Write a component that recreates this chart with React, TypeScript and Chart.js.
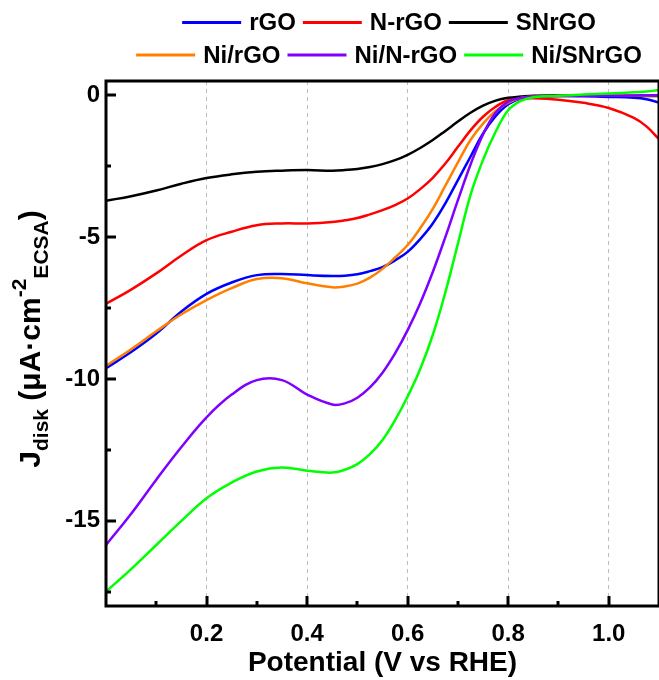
import React, { useEffect, useRef } from "react";
import { Chart, registerables } from "chart.js";

Chart.register(...registerables);

// ---------- data ----------
const potential = [0, 0.05, 0.1, 0.15, 0.2, 0.25, 0.3, 0.35, 0.4, 0.45, 0.475, 0.5, 0.525, 0.55, 0.575, 0.6, 0.625, 0.65, 0.675, 0.7, 0.725, 0.75, 0.775, 0.8, 0.825, 0.85, 0.9, 0.95, 1.0, 1.05, 1.075, 1.1];

const rGO = [-9.62, -9.05, -8.4, -7.62, -7.0, -6.6, -6.34, -6.3, -6.34, -6.37, -6.36, -6.31, -6.2, -6.06, -5.82, -5.52, -5.07, -4.52, -3.81, -2.99, -2.17, -1.35, -0.74, -0.32, -0.12, -0.05, -0.03, -0.04, -0.06, -0.09, -0.14, -0.26];
const NrGO = [-7.35, -6.85, -6.28, -5.65, -5.11, -4.81, -4.58, -4.52, -4.52, -4.47, -4.41, -4.33, -4.2, -4.05, -3.87, -3.64, -3.31, -2.91, -2.41, -1.82, -1.24, -0.76, -0.41, -0.18, -0.12, -0.11, -0.16, -0.27, -0.45, -0.8, -1.1, -1.55];
const SNrGO = [-3.72, -3.56, -3.36, -3.12, -2.92, -2.79, -2.7, -2.66, -2.64, -2.66, -2.64, -2.6, -2.53, -2.43, -2.29, -2.1, -1.86, -1.58, -1.26, -0.93, -0.62, -0.37, -0.19, -0.09, -0.05, -0.02, -0.01, -0.01, -0.02, -0.02, -0.03, -0.03];
const NiRGO = [-9.54, -8.95, -8.32, -7.72, -7.22, -6.8, -6.48, -6.45, -6.63, -6.77, -6.74, -6.64, -6.43, -6.12, -5.72, -5.28, -4.69, -4.01, -3.19, -2.37, -1.58, -1.0, -0.56, -0.26, -0.1, -0.05, -0.03, -0.02, -0.02, -0.01, -0.01, 0.0];
const NiNrGO = [-15.85, -14.75, -13.55, -12.4, -11.35, -10.55, -10.04, -10.04, -10.55, -10.9, -10.86, -10.66, -10.3, -9.78, -9.1, -8.28, -7.33, -6.23, -5.0, -3.7, -2.45, -1.38, -0.62, -0.23, -0.1, -0.05, -0.03, -0.02, -0.02, -0.01, 0.0, 0.0];
const NiSNrGO = [-17.49, -16.7, -15.85, -15.0, -14.2, -13.65, -13.26, -13.12, -13.23, -13.3, -13.2, -13.0, -12.65, -12.15, -11.45, -10.62, -9.65, -8.45, -6.95, -5.23, -3.52, -2.28, -1.29, -0.53, -0.2, -0.07, -0.02, 0.02, 0.06, 0.1, 0.13, 0.18];

const seriesNames = ["rGO", "N-rGO", "SNrGO", "Ni/rGO", "Ni/N-rGO", "Ni/SNrGO"];
const seriesValues = [rGO, NrGO, SNrGO, NiRGO, NiNrGO, NiSNrGO];
const seriesColors = ["#0000FF", "#FF0000", "#000000", "#FF8000", "#8000FF", "#00FF00"];

const xMajorTicks = [0.2, 0.4, 0.6, 0.8, 1.0];
const xMinorTicks = [0.1, 0.3, 0.5, 0.7, 0.9];
const yMajorTicks = [0, -5, -10, -15];
const yMinorTicks = [-2.5, -7.5, -12.5, -17.5];

const legendRows = [
  ["rGO", "N-rGO", "SNrGO"],
  ["Ni/rGO", "Ni/N-rGO", "Ni/SNrGO"],
];

const xTitle = "Potential (V vs RHE)";
const yTitleParts = [
  { text: "J", kind: "main" },
  { text: "disk", kind: "sub" },
  { text: " (μA·cm", kind: "main" },
  { text: "-2", kind: "sup" },
  { text: "ECSA", kind: "sub" },
  { text: ")", kind: "main" },
];

const FONT = '"Liberation Sans", Arial, Helvetica, sans-serif';

// ---------- plugins ----------
const frameTicksPlugin = {
  id: "frameTicks",
  afterDatasetsDraw(chart: any) {
    const { ctx, chartArea, scales } = chart;
    const { left, right, top, bottom } = chartArea;
    ctx.save();
    ctx.strokeStyle = "#000";
    ctx.lineWidth = 3;
    ctx.lineCap = "butt";
    const xs = scales.x;
    const ys = scales.y;
    const drawX = (v: number, len: number) => {
      const px = Math.round(xs.getPixelForValue(v));
      ctx.beginPath();
      ctx.moveTo(px, bottom);
      ctx.lineTo(px, bottom - len);
      ctx.stroke();
    };
    const drawY = (v: number, len: number) => {
      const py = Math.round(ys.getPixelForValue(v));
      ctx.beginPath();
      ctx.moveTo(left, py);
      ctx.lineTo(left + len, py);
      ctx.stroke();
    };
    xMajorTicks.forEach((v) => drawX(v, 10));
    xMinorTicks.forEach((v) => drawX(v, 5));
    yMajorTicks.forEach((v) => drawY(v, 10));
    yMinorTicks.forEach((v) => drawY(v, 5));
    ctx.strokeRect(left, top, right - left, bottom - top);
    ctx.restore();
  },
};

const yTitlePlugin = {
  id: "yTitle",
  afterDraw(chart: any) {
    const ctx = chart.ctx;
    ctx.save();
    const sizes: any = { main: 30, sub: 21, sup: 21 };
    const shifts: any = { main: 0, sub: 8, sup: -14 };
    let total = 0;
    const widths = yTitleParts.map((p) => {
      ctx.font = `bold ${sizes[p.kind]}px ${FONT}`;
      const w = ctx.measureText(p.text).width;
      total += w;
      return w;
    });
    ctx.translate(40, 339);
    ctx.rotate(-Math.PI / 2);
    ctx.fillStyle = "#000";
    ctx.textBaseline = "alphabetic";
    ctx.textAlign = "left";
    let x = -total / 2;
    yTitleParts.forEach((p, i) => {
      ctx.font = `bold ${sizes[p.kind]}px ${FONT}`;
      ctx.fillText(p.text, x, shifts[p.kind]);
      x += widths[i];
    });
    ctx.restore();
  },
};

const legendPlugin = {
  id: "customLegend",
  afterDraw(chart: any) {
    const ctx = chart.ctx;
    ctx.save();
    ctx.font = `bold 24px ${FONT}`;
    ctx.textBaseline = "middle";
    ctx.textAlign = "left";
    const lineLen = 59;
    const gapLine = 8;
    const gapText = 7;
    const rowY = [22.5, 55];
    const centerX = 389;
    legendRows.forEach((row, r) => {
      const widths = row.map((n) => ctx.measureText(n).width);
      let total = 0;
      widths.forEach((w, i) => {
        total += lineLen + gapLine + w + (i < row.length - 1 ? gapText : 0);
      });
      let x = centerX - total / 2;
      row.forEach((name, i) => {
        const idx = seriesNames.indexOf(name);
        ctx.strokeStyle = seriesColors[idx];
        ctx.lineWidth = 3;
        ctx.beginPath();
        ctx.moveTo(x, rowY[r]);
        ctx.lineTo(x + lineLen, rowY[r]);
        ctx.stroke();
        ctx.fillStyle = "#000";
        ctx.fillText(name, x + lineLen + gapLine, rowY[r] + 1);
        x += lineLen + gapLine + widths[i] + gapText;
      });
    });
    ctx.restore();
  },
};

export default function App() {
  const canvasRef = useRef<HTMLCanvasElement | null>(null);

  useEffect(() => {
    const canvas = canvasRef.current;
    if (!canvas) return;
    const datasets = seriesNames.map((name, i) => ({
      label: name,
      data: potential.map((x, j) => ({ x, y: seriesValues[i][j] })),
      borderColor: seriesColors[i],
      backgroundColor: seriesColors[i],
      borderWidth: 2.5,
      pointRadius: 0,
      fill: false,
      tension: 0.4,
      order: seriesNames.length - i,
    }));

    const chart = new Chart(canvas, {
      type: "line",
      data: { datasets },
      options: {
        responsive: false,
        animation: false,
        layout: { padding: { top: 81, right: 0, left: 0, bottom: 0 } },
        plugins: {
          legend: { display: false },
          tooltip: { enabled: false },
        },
        scales: {
          x: {
            type: "linear",
            min: 0,
            max: 1.1,
            afterBuildTicks: (s: any) => {
              s.ticks = xMajorTicks.map((v) => ({ value: v }));
            },
            afterFit: (s: any) => {
              s.height = 74;
            },
            grid: { display: true, color: "#bdbdbd", lineWidth: 1, drawTicks: false },
            border: { display: false, dash: [4, 4] },
            ticks: {
              color: "#000",
              font: { family: FONT, size: 24, weight: "bold" },
              padding: 14,
              maxRotation: 0,
              autoSkip: false,
              callback: (v: any) => Number(v).toFixed(1),
            },
            title: {
              display: true,
              text: xTitle,
              color: "#000",
              font: { family: FONT, size: 28, weight: "bold" },
              padding: { top: 0, bottom: 0 },
            },
          },
          y: {
            type: "linear",
            min: -18,
            max: 0.5,
            afterBuildTicks: (s: any) => {
              s.ticks = yMajorTicks.map((v) => ({ value: v }));
            },
            afterFit: (s: any) => {
              s.width = 106;
            },
            grid: { display: false, drawTicks: false },
            border: { display: false },
            ticks: {
              color: "#000",
              font: { family: FONT, size: 24, weight: "bold" },
              padding: 6,
              autoSkip: false,
              callback: (v: any) => String(v),
            },
          },
        },
      },
      plugins: [frameTicksPlugin, yTitlePlugin, legendPlugin],
    } as any);

    return () => chart.destroy();
  }, []);

  return (
    <div style={{ position: "absolute", left: 0, top: 0, width: 659, height: 680, background: "#fff" }}>
      <canvas ref={canvasRef} width={659} height={680} style={{ display: "block", width: 659, height: 680 }} />
    </div>
  );
}
